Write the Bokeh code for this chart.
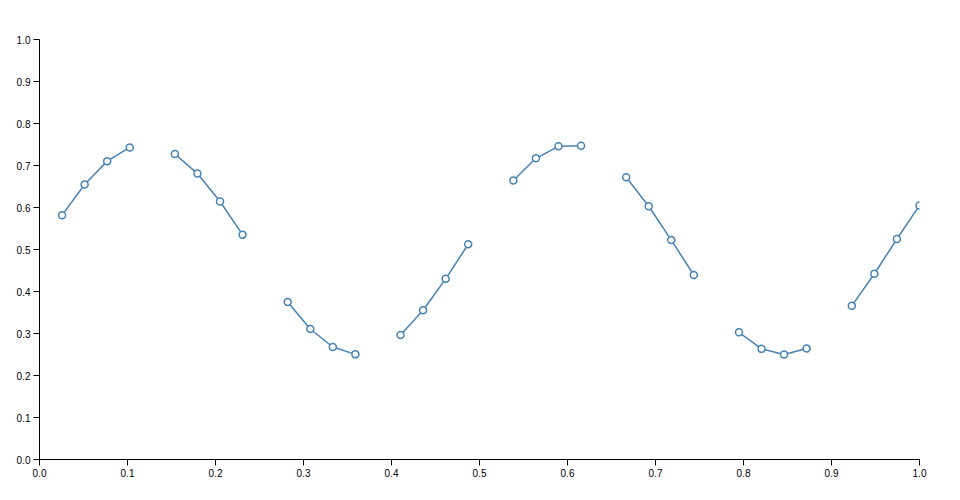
import numpy as np
from bokeh.plotting import figure
from bokeh.models import FixedTicker, Range1d, CustomJSTickFormatter
from bokeh.embed import file_html
from bokeh.resources import INLINE

# data: missing points are None (gaps in the line)
x_vals = [0.0, 0.02564, 0.05128, 0.07692, 0.10256, 0.12821, 0.15385, 0.17949, 0.20513, 0.23077,
          0.25641, 0.28205, 0.30769, 0.33333, 0.35897, 0.38462, 0.41026, 0.43590, 0.46154, 0.48718,
          0.51282, 0.53846, 0.56410, 0.58974, 0.61538, 0.64103, 0.66667, 0.69231, 0.71795, 0.74359,
          0.76923, 0.79487, 0.82051, 0.84615, 0.87179, 0.89744, 0.92308, 0.94872, 0.97436, 1.0]
y_vals = [None, 0.5818, 0.6546, 0.7104, 0.7430, None, 0.7273, 0.6808, 0.6143, 0.5353,
          None, 0.3748, 0.3108, 0.2679, 0.2503, None, 0.2965, 0.3554, 0.4302, 0.5125,
          None, 0.6643, 0.7171, 0.7456, 0.7473, None, 0.6719, 0.6030, 0.5224, 0.4393,
          None, 0.3029, 0.2634, 0.2500, 0.2641, None, 0.3659, 0.4423, 0.5250, 0.6050]
ticks = [0.0, 0.1, 0.2, 0.3, 0.4, 0.5, 0.6, 0.7, 0.8, 0.9, 1.0]

xs = np.array(x_vals, dtype=float)
ys = np.array([np.nan if v is None else v for v in y_vals], dtype=float)
mask = ~np.isnan(ys)

p = figure(width=951, height=491, output_backend="svg", toolbar_location=None,
           x_range=Range1d(0, 1), y_range=Range1d(0, 1),
           min_border_left=39, min_border_right=32, min_border_top=39, min_border_bottom=32)
p.frame_width = 880
p.frame_height = 420
p.outline_line_color = None
p.grid.visible = False
p.background_fill_color = "white"

fmt = CustomJSTickFormatter(code="return tick.toFixed(1);")
for ax in (p.xaxis[0], p.yaxis[0]):
    ax.ticker = FixedTicker(ticks=ticks)
    ax.formatter = fmt
    ax.axis_line_color = "black"
    ax.axis_line_width = 1
    ax.major_tick_line_color = "black"
    ax.major_tick_out = 6
    ax.major_tick_in = 0
    ax.minor_tick_line_color = None
    ax.major_label_text_font = "Liberation Sans"
    ax.major_label_text_font_size = "10px"
    ax.major_label_text_color = "black"
    ax.major_label_standoff = 3

p.line(xs, ys, line_color="steelblue", line_width=1.5)
p.scatter(xs[mask], ys[mask], size=7, fill_color="white", line_color="steelblue", line_width=1.5)

open("out.html", "w").write(file_html(p, INLINE))
